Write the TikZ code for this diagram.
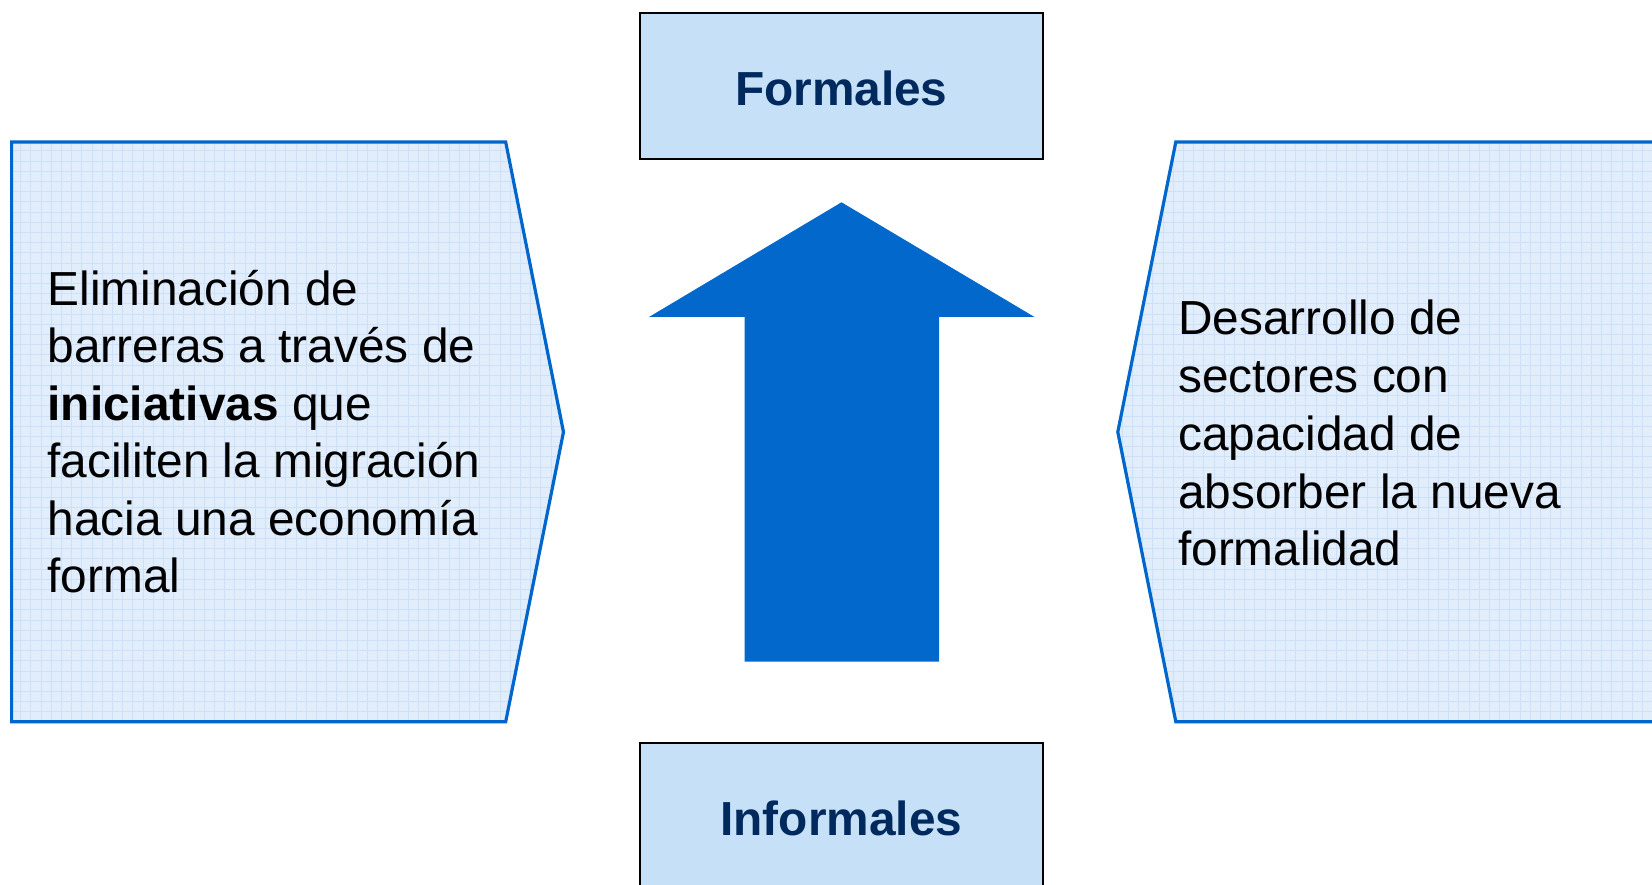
\documentclass[tikz,border=0pt]{standalone}
\usepackage{fontspec}
\setmainfont{Liberation Sans}
\definecolor{penfill}{RGB}{225,237,251}
\definecolor{pengrid}{RGB}{204,224,247}
\definecolor{penline}{RGB}{0,102,204}
\definecolor{boxfill}{RGB}{198,224,248}
\definecolor{titlecol}{RGB}{0,42,94}
\definecolor{arrowcol}{RGB}{2,104,204}
\tikzset{
  penborder/.style={draw=penline, line width=3.2pt, line join=miter},
  titlebox/.style={draw=black, fill=boxfill, line width=2pt, inner sep=0pt, minimum width=403.5pt},
  titletext/.style={anchor=base, inner sep=0pt, text=titlecol, font=\fontsize{47.8}{57}\selectfont\bfseries},
  bodytext/.style={anchor=base west, inner sep=0pt, font=\fontsize{47.8}{57.5}\selectfont},
}
\begin{document}
\begin{tikzpicture}[x=1pt,y=1pt]
\clip (0,0) rectangle (1652,885);
\useasboundingbox (0,0) rectangle (1652,885);
% left pentagon
\begin{scope}
  \clip (11.6,743) -- (505.7,743) -- (563.5,453) -- (505.7,163.3) -- (11.6,163.3) -- cycle;
  \fill[penfill] (0,150) rectangle (600,760);
  \draw[pengrid, line width=0.5pt, step=10.2pt] (0,150) grid (600,760);
\end{scope}
\draw[penborder] (11.6,743) -- (505.7,743) -- (563.5,453) -- (505.7,163.3) -- (11.6,163.3) -- cycle;
% right pentagon
\begin{scope}
  \clip (1665,743) -- (1175.8,743) -- (1117.8,453) -- (1175.8,163.3) -- (1665,163.3) -- cycle;
  \fill[penfill] (1100,150) rectangle (1665,760);
  \draw[pengrid, line width=0.5pt, step=10.2pt] (1100,150) grid (1665,760);
\end{scope}
\draw[penborder] (1665,743) -- (1175.8,743) -- (1117.8,453) -- (1175.8,163.3) -- (1665,163.3);
% boxes
\node[titlebox, minimum height=146.4pt] (formbox) at (841.3,799.2) {};
\node[titlebox, minimum height=170pt] (infbox) at (841.3,57.3) {};
\node[titletext] (formtxt) at (841.3,779.6) {Formales};
\node[titletext] (inftxt) at (841.3,49.5) {Informales};
% arrow
\fill[arrowcol] (744.5,223.4) -- (744.5,568) -- (649,568) -- (841.5,682.7) -- (1034.5,568) -- (939,568) -- (939,223.4) -- cycle;
% texts
\node[bodytext] (lefttxt) at (47.4,579.5) {\vtop{\baselineskip=57.5pt\lineskiplimit=-20pt
  \hbox{Eliminación de}\hbox{barreras a través de}\hbox{\textbf{iniciativas} que}\hbox{faciliten la migración}\hbox{hacia una economía}\hbox{formal}}};
\node[bodytext] (righttxt) at (1178,550) {\vtop{\baselineskip=57.7pt\lineskiplimit=-20pt
  \hbox{Desarrollo de}\hbox{sectores con}\hbox{capacidad de}\hbox{absorber la nueva}\hbox{formalidad}}};
\end{tikzpicture}
\end{document}
